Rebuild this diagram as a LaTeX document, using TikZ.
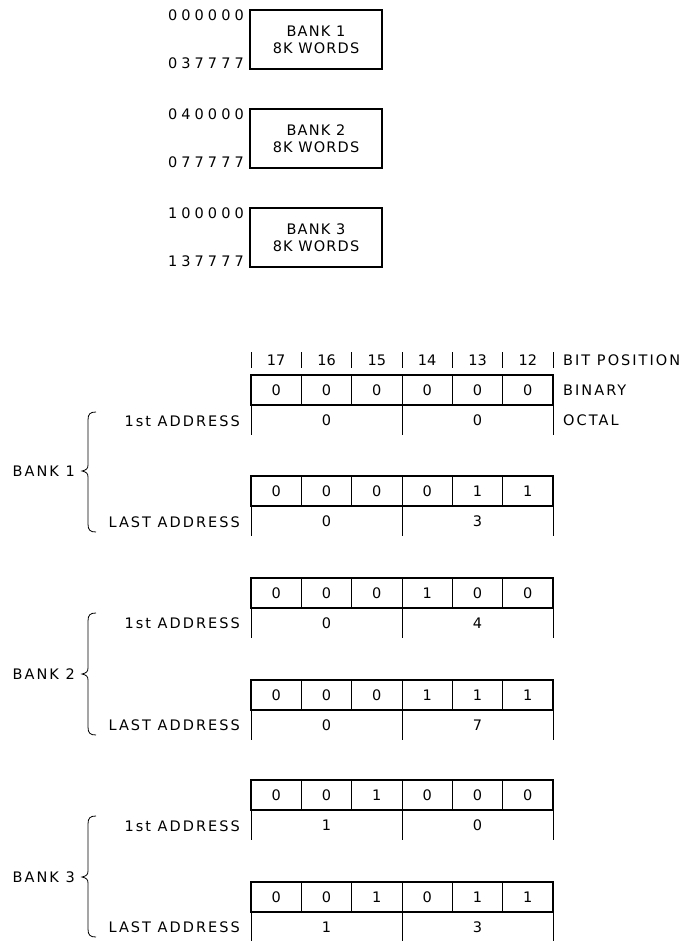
\documentclass[tikz,border=0pt]{standalone}
\usepackage{fontspec}
\setmainfont{DejaVu Sans}
\newfontfamily\lblfont{DejaVu Sans}[LetterSpace=14]
\newfontfamily\boxfont{DejaVu Sans}[LetterSpace=8]
\newfontfamily\numfont{DejaVu Sans}[LetterSpace=28]
\tikzset{
  lbl/.style={font=\lblfont\fontsize{14.5}{17}\selectfont, inner sep=0pt},
  numlbl/.style={font=\numfont\fontsize{14.5}{17}\selectfont, inner sep=0pt},
  dig/.style={font=\fontsize{14.5}{17}\selectfont, inner sep=0pt},
  membox/.style={draw, line width=1.5pt, minimum width=132pt, minimum height=59pt, align=center,
    font=\boxfont\fontsize{14.5}{17}\selectfont, inner sep=0pt},
  thickline/.style={line width=1.5pt},
  thinline/.style={line width=0.8pt},
}
\newcommand\addrrow[5]{%
  \draw[thickline] (251,#2) rectangle (553,#2+30);
  \foreach \k in {1,...,5} \draw[thinline] ({251+50.333*\k},#2) -- ({251+50.333*\k},#2+30);
  \foreach \d [count=\i] in {#3} \node[dig] (#1-b\i) at ({251+50.333*(\i-0.5)},#2+15) {\d};
  \draw[thinline] (251,#2+30) -- (251,#2+60) (402,#2+30) -- (402,#2+60) (553,#2+30) -- (553,#2+60);
  \node[dig] (#1-o1) at (326.5,#2+45) {#4};
  \node[dig] (#1-o2) at (477.5,#2+45) {#5};
}
\newcommand\bankbrace[3]{% top, tip, bottom
  \draw[thinline] (96,#1) .. controls (90,#1) and (88,{#1+2}) .. (88,{#1+8}) -- (88,{#2-6})
    .. controls (88,{#2-2}) and (86,{#2-1}) .. (82,#2)
    .. controls (86,{#2+1}) and (88,{#2+2}) .. (88,{#2+6}) -- (88,{#3-8})
    .. controls (88,{#3-2}) and (90,#3) .. (96,#3);
}
\begin{document}
\begin{tikzpicture}[x=1pt,y=-1pt]
\useasboundingbox (0,0) rectangle (694,941);

% memory banks
\node[membox] (m1) at (316,39.5) {BANK 1\\8K WORDS};
\node[membox] (m2) at (316,138.5) {BANK 2\\8K WORDS};
\node[membox] (m3) at (316,237.5) {BANK 3\\8K WORDS};
\node[numlbl, anchor=east] (m1a) at (244,15) {000000};
\node[numlbl, anchor=east] (m1b) at (244,63) {037777};
\node[numlbl, anchor=east] (m2a) at (244,114) {040000};
\node[numlbl, anchor=east] (m2b) at (244,162) {077777};
\node[numlbl, anchor=east] (m3a) at (244,213) {100000};
\node[numlbl, anchor=east] (m3b) at (244,261) {137777};

% bit positions
\foreach \k in {0,...,6} \draw[thinline] ({251+50.333*\k},352) -- ({251+50.333*\k},368);
\foreach \p [count=\i] in {17,16,15,14,13,12}
  \node[dig] (bp\i) at ({251+50.333*(\i-0.5)},360) {\p};
\node[lbl, anchor=west] (bitpos) at (563,360) {BIT POSITION};
\node[lbl, anchor=west] (binary) at (563,390) {BINARY};
\node[lbl, anchor=west] (octal) at (563,420) {OCTAL};

% rows
\addrrow{b1f}{375}{0,0,0,0,0,0}{0}{0}
\addrrow{b1l}{476}{0,0,0,0,1,1}{0}{3}
\addrrow{b2f}{578}{0,0,0,1,0,0}{0}{4}
\addrrow{b2l}{680}{0,0,0,1,1,1}{0}{7}
\addrrow{b3f}{780}{0,0,1,0,0,0}{1}{0}
\addrrow{b3l}{882}{0,0,1,0,1,1}{1}{3}

% address labels
\node[lbl, anchor=east] (a1f) at (240,421) {1st ADDRESS};
\node[lbl, anchor=east] (a1l) at (240,522) {LAST ADDRESS};
\node[lbl, anchor=east] (a2f) at (240,623) {1st ADDRESS};
\node[lbl, anchor=east] (a2l) at (240,725) {LAST ADDRESS};
\node[lbl, anchor=east] (a3f) at (240,826) {1st ADDRESS};
\node[lbl, anchor=east] (a3l) at (240,927) {LAST ADDRESS};

% braces
\bankbrace{412}{471}{532}
\bankbrace{613}{674}{735}
\bankbrace{816}{877}{937}
\node[lbl, anchor=east] (bk1) at (75,471) {BANK 1};
\node[lbl, anchor=east] (bk2) at (75,674) {BANK 2};
\node[lbl, anchor=east] (bk3) at (75,877) {BANK 3};
\end{tikzpicture}
\end{document}
